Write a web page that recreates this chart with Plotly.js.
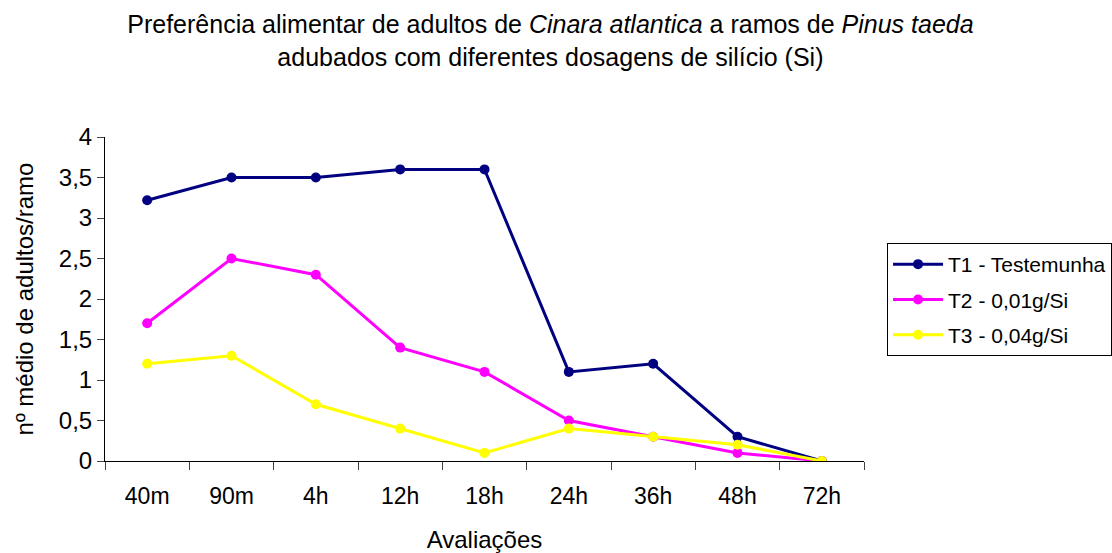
<!DOCTYPE html>
<html><head><meta charset="utf-8">
<script src="https://cdn.plot.ly/plotly-3.0.1.min.js"></script>
<style>body{margin:0;background:#fff}#c{width:1112px;height:553px}</style>
</head><body><div id="c"></div>
<script>
const categories = ["40m","90m","4h","12h","18h","24h","36h","48h","72h"];
const seriesNames = ["T1 - Testemunha","T2 - 0,01g/Si","T3 - 0,04g/Si"];
const t1 = [3.22,3.5,3.5,3.6,3.6,1.1,1.2,0.3,0];
const t2 = [1.7,2.5,2.3,1.4,1.1,0.5,0.3,0.1,0];
const t3 = [1.2,1.3,0.7,0.4,0.1,0.4,0.3,0.2,0];
const colors = ["#000080","#FF00FF","#FFFF00"];
const vals = [t1,t2,t3];
const traces = vals.map((v,i)=>({
  x: categories, y: v, name: seriesNames[i], type:"scatter", mode:"lines+markers",
  legendgroup:"g"+i,
  line:{color:colors[i], width:3}, marker:{color:colors[i], size:10}
}));
const font = "Liberation Sans, Arial, sans-serif";
Plotly.newPlot("c", traces, {
  width:1112, height:553,
  margin:{l:105, r:248, t:137, b:92},
  paper_bgcolor:"#fff", plot_bgcolor:"#fff",
  separators:",.",
  font:{family:font, color:"#000", size:24},
  title:{text:"Preferência alimentar de adultos de <i>Cinara atlantica</i> a ramos de <i>Pinus taeda</i><br>adubados com diferentes dosagens de silício (Si)",
    x:0.495, xanchor:"center", y:0.94, yanchor:"middle", font:{size:25, family:font}},
  xaxis:{type:"category", range:[-0.5,8.5], tickson:"boundaries", ticks:"outside", ticklen:8,
    ticklabelstandoff:14,
    showline:true, linecolor:"#000", linewidth:1, showgrid:false, zeroline:false,
    tickfont:{size:23}, title:{text:"Avaliações", font:{size:24}, standoff:24}},
  yaxis:{range:[0,4], dtick:0.5, ticks:"outside", ticklen:7, showline:true, linecolor:"#000",
    linewidth:1, showgrid:false, zeroline:false, tickfont:{size:24},
    title:{text:"nº médio de adultos/ramo", font:{size:24}, standoff:18}},
  showlegend:true,
  legend:{xref:"container", yref:"container", x:0.7977, xanchor:"left", y:0.5606, yanchor:"top",
    bordercolor:"#000", borderwidth:1,
    font:{size:21}, bgcolor:"#fff", traceorder:"grouped", tracegroupgap:5, itemwidth:50}
}, {displayModeBar:false});
</script></body></html>
